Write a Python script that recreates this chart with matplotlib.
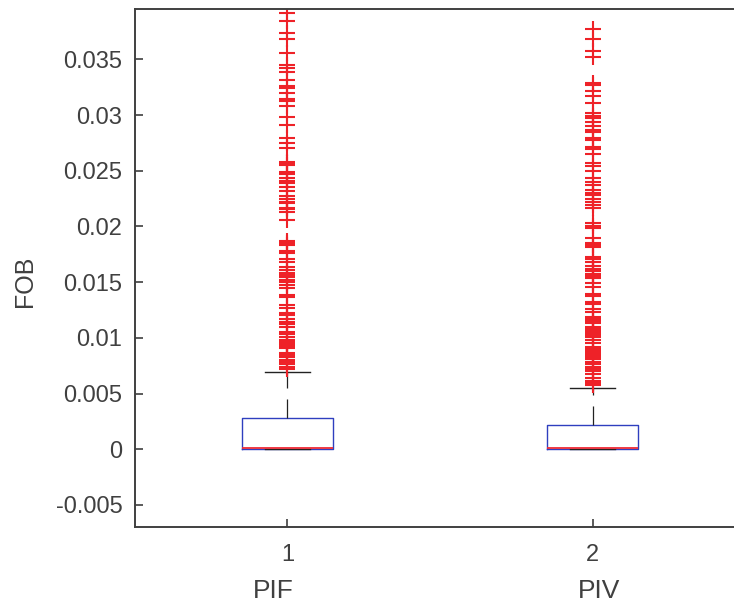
import matplotlib
matplotlib.use("Agg")
import matplotlib.pyplot as plt

plt.rcParams['font.family'] = ['Liberation Sans', 'DejaVu Sans']
plt.rcParams['lines.scale_dashes'] = False

categories = ["PIF", "PIV"]
tick_labels = ["1", "2"]

q1 = [0.00002, 0.00002]
median = [0.00008, 0.00008]
q3 = [0.00277, 0.00217]
whisker_low = [0.0, 0.0]
whisker_high = [0.00696, 0.00547]

outliers_pif = [
    0.03913, 0.03847, 0.03733, 0.03680, 0.03559, 0.03449, 0.03422, 0.03389,
    0.03314, 0.03260, 0.03243, 0.03200, 0.03146, 0.03128, 0.03081, 0.02979,
    0.02910, 0.02791, 0.02746, 0.02707, 0.02581, 0.02565, 0.02551, 0.02491,
    0.02470, 0.02432, 0.02412, 0.02392, 0.02351, 0.02321, 0.02273, 0.02243,
    0.02222, 0.02207, 0.02168, 0.02154, 0.02132, 0.02058, 0.01872, 0.01851,
    0.01833, 0.01782, 0.01759, 0.01705, 0.01683, 0.01633, 0.01609, 0.01584,
    0.01564, 0.01543, 0.01523, 0.01504, 0.01474, 0.01444, 0.01384, 0.01369,
    0.01294, 0.01265, 0.01220, 0.01205, 0.01166, 0.01146, 0.01124, 0.01100,
    0.01055, 0.01034, 0.01010, 0.00980, 0.00962, 0.00944, 0.00926, 0.00906,
    0.00866, 0.00846, 0.00825, 0.00805, 0.00785, 0.00765, 0.00741, 0.00720,
]

outliers_piv = [
    0.03772, 0.03680, 0.03577, 0.03518, 0.03285, 0.03269, 0.03218, 0.03173,
    0.03105, 0.03021, 0.02991, 0.02971, 0.02940, 0.02904, 0.02865, 0.02850,
    0.02791, 0.02776, 0.02710, 0.02692, 0.02650, 0.02567, 0.02545, 0.02497,
    0.02432, 0.02399, 0.02372, 0.02327, 0.02304, 0.02282, 0.02243, 0.02219,
    0.02192, 0.02163, 0.02028, 0.02005, 0.01983, 0.01893, 0.01848, 0.01830,
    0.01812, 0.01728, 0.01707, 0.01683, 0.01645, 0.01622, 0.01600, 0.01577,
    0.01555, 0.01534, 0.01495, 0.01453, 0.01393, 0.01375, 0.01324, 0.01303,
    0.01259, 0.01234, 0.01187, 0.01169, 0.01151, 0.01130, 0.01097, 0.01079,
    0.01061, 0.01043, 0.01025, 0.01003, 0.00980, 0.00953, 0.00917, 0.00899,
    0.00882, 0.00864, 0.00846, 0.00828, 0.00810, 0.00787, 0.00765, 0.00742,
    0.00720, 0.00698, 0.00671, 0.00635, 0.00612, 0.00590, 0.00572,
]
outliers = [outliers_pif, outliers_piv]

y_ticks = [-0.005, 0, 0.005, 0.01, 0.015, 0.02, 0.025, 0.03, 0.035]
y_tick_labels = ["-0.005", "0", "0.005", "0.01", "0.015", "0.02", "0.025", "0.03", "0.035"]

# horizontal placement of the category names under the ticks
name_positions = [0.954, 2.023]

text_color = "#404040"

fig = plt.figure(figsize=(7.34, 6.06), dpi=100)
ax = fig.add_axes([0.1839, 0.1304, 0.8311, 0.8548])

stats = []
for i in range(len(categories)):
    stats.append(dict(q1=q1[i], med=median[i], q3=q3[i],
                      whislo=whisker_low[i], whishi=whisker_high[i],
                      fliers=outliers[i], label=tick_labels[i]))

positions = [1, 2]
ax.bxp(stats, positions=positions, widths=0.3, capwidths=0.15,
       showfliers=True, patch_artist=False,
       boxprops=dict(color="#2f3fbf", linewidth=1.0),
       medianprops=dict(color="#ee2a35", linewidth=1.3),
       whiskerprops=dict(color="#222222", linewidth=0.9, linestyle=(0, (13.7, 7.9))),
       capprops=dict(color="#222222", linewidth=1.0),
       flierprops=dict(marker="+", markeredgecolor="#ee2228", markersize=11,
                       markeredgewidth=1.5, linestyle="none"))

ax.set_xlim(0.5, 2.5)
ax.set_ylim(-0.00698, 0.03952)
ax.set_yticks(y_ticks)
ax.set_yticklabels(y_tick_labels)
ax.set_xticks(positions)
ax.set_xticklabels(tick_labels)

for s in ax.spines.values():
    s.set_color(text_color)
    s.set_linewidth(1.4)

ax.tick_params(axis="both", direction="in", colors=text_color, labelsize=17,
               width=1.2, length=6)
ax.tick_params(axis="x", pad=12)
ax.tick_params(axis="y", pad=9)
ax.tick_params(top=False, right=False)

for pos, name in zip(name_positions, categories):
    ax.text(pos, -0.1245, name, transform=ax.get_xaxis_transform(),
            ha="center", va="center", fontsize=19, color=text_color)

ax.set_ylabel("FOB", fontsize=18, color=text_color, va="center")
ax.yaxis.set_label_coords(-0.181, 0.475)

fig.savefig("out.png", dpi=100)
